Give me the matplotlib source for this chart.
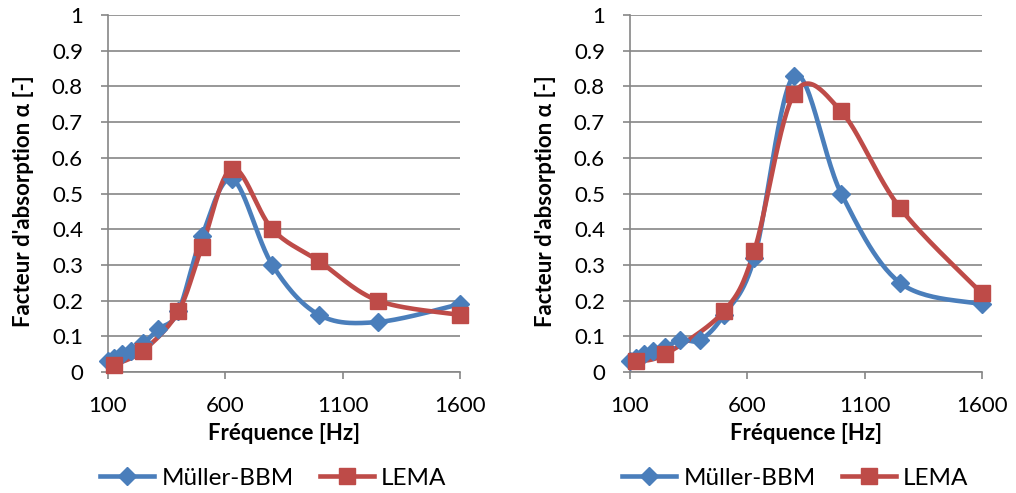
import numpy as np
import matplotlib
matplotlib.use("Agg")
import matplotlib.pyplot as plt

plt.rcParams['font.family'] = ['Lato', 'DejaVu Sans']

# bandes de tiers d'octave
freq_bbm = [100, 125, 160, 200, 250, 315, 400, 500, 630, 800, 1000, 1250, 1600]
bbm_1 = [0.03, 0.04, 0.05, 0.06, 0.08, 0.12, 0.17, 0.38, 0.54, 0.30, 0.16, 0.14, 0.19]
bbm_2 = [0.03, 0.04, 0.05, 0.06, 0.07, 0.09, 0.09, 0.16, 0.32, 0.83, 0.50, 0.25, 0.19]

freq_lema_1 = [125, 250, 400, 500, 630, 800, 1000, 1250, 1600]
lema_1 = [0.02, 0.06, 0.17, 0.35, 0.57, 0.40, 0.31, 0.20, 0.16]
freq_lema_2 = [125, 250, 500, 630, 800, 1000, 1250, 1600]
lema_2 = [0.03, 0.05, 0.17, 0.34, 0.78, 0.73, 0.46, 0.22]

blue = '#4A7EBB'
red = '#BE4B48'
grid_col = '#868686'


def smooth(x, y, n=30):
    # lissage type Excel (Catmull-Rom -> Bezier)
    x = np.asarray(x, float)
    y = np.asarray(y, float)
    px = np.r_[x[0], x, x[-1]]
    py = np.r_[y[0], y, y[-1]]
    xs, ys = [], []
    t = np.linspace(0, 1, n)
    for i in range(1, len(px) - 2):
        p0 = np.array([px[i - 1], py[i - 1]])
        p1 = np.array([px[i], py[i]])
        p2 = np.array([px[i + 1], py[i + 1]])
        p3 = np.array([px[i + 2], py[i + 2]])
        c1 = p1 + (p2 - p0) / 6
        c2 = p2 - (p3 - p1) / 6
        b = ((1 - t) ** 3)[:, None] * p1 + (3 * (1 - t) ** 2 * t)[:, None] * c1 \
            + (3 * (1 - t) * t ** 2)[:, None] * c2 + (t ** 3)[:, None] * p2
        xs.extend(b[:, 0])
        ys.extend(b[:, 1])
    return xs, ys


fig = plt.figure(figsize=(10.16, 4.93), dpi=100)
lefts = [108 / 1016, 630 / 1016]
w = 352 / 1016
bottom = 1 - 372 / 493
h = 357 / 493

datasets = [(bbm_1, freq_lema_1, lema_1), (bbm_2, freq_lema_2, lema_2)]

for left, (bbm, fl, lema) in zip(lefts, datasets):
    ax = fig.add_axes([left, bottom, w, h])
    for vals, fx, col, mk, ms, lab in [(bbm, freq_bbm, blue, 'D', 9, 'Müller-BBM'),
                                       (lema, fl, red, 's', 11, 'LEMA')]:
        sx, sy = smooth(fx, vals)
        ax.plot(sx, sy, color=col, lw=3.3, solid_capstyle='round', zorder=3, clip_on=False)
        ax.plot(fx, vals, ls='none', marker=mk, ms=ms, color=col, zorder=4, clip_on=False)
        ax.plot([], [], color=col, lw=3.3, marker=mk, ms=ms, label=lab)

    ax.set_xlim(100, 1600)
    ax.set_ylim(0, 1)
    ax.set_xticks([100, 600, 1100, 1600])
    ax.set_yticks(np.round(np.arange(0, 1.01, 0.1), 1))
    ax.set_yticklabels(['0', '0.1', '0.2', '0.3', '0.4', '0.5', '0.6', '0.7', '0.8', '0.9', '1'])
    ax.grid(axis='y', color=grid_col, lw=1.2)
    ax.set_axisbelow(True)
    for s in ['top', 'right']:
        ax.spines[s].set_visible(False)
    for s in ['left', 'bottom']:
        ax.spines[s].set_color(grid_col)
        ax.spines[s].set_linewidth(1.2)
    ax.tick_params(colors=grid_col, labelcolor='black', labelsize=16, length=5, width=1.2)
    ax.tick_params(axis='x', pad=12)
    ax.tick_params(axis='y', pad=13)
    ax.set_xlabel('Fréquence [Hz]', fontsize=16, fontweight='bold')
    ax.set_ylabel("Facteur d'absorption α [-]", fontsize=16, fontweight='bold')
    ax.xaxis.set_label_coords(0.5, -0.143)
    ax.yaxis.set_label_coords(-0.21, 0.48)
    ax.legend(loc='center', bbox_to_anchor=(0.47, -0.297), ncol=2, frameon=False,
              fontsize=17.5, handlelength=2.2, handletextpad=0.3, columnspacing=1.1,
              borderpad=0)

fig.savefig('out.png', dpi=100)
